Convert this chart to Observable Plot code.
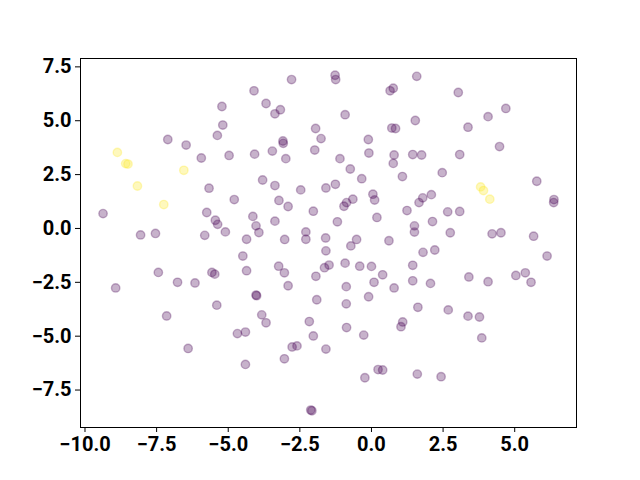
<!DOCTYPE html>
<html>
<head>
<meta charset="utf-8">
<script src="https://cdn.jsdelivr.net/npm/d3@7"></script>
<script src="https://cdn.jsdelivr.net/npm/@observablehq/plot@0.6"></script>
<style>
  html, body { margin: 0; padding: 0; background: #fff; }
</style>
</head>
<body>
<div id="chart"></div>
<script>
// Class 0 points (purple)
const x0 = [-5.22,-5.19,-5.38,-7.11,-6.47,-5.94,-4.97,-5.67,-4.79,-9.37,-5.75,-5.45,-5.37,-5.10,-8.06,-7.54,-5.82,-4.36,
  -2.79,-1.27,-1.25,-4.10,-3.68,-3.37,-3.18,-0.92,0.65,0.76,1.58,-1.95,-1.76,0.71,0.84,1.53,-3.09,-3.08,-0.11,-4.08,-3.46,
  -2.99,-1.98,-1.10,-0.09,0.79,0.76,1.44,1.75,-0.74,-3.80,-3.37,-2.47,-1.59,-1.26,-0.34,1.08,-3.23,-2.91,-2.03,-0.96,-0.87,
  -0.65,0.05,0.11,1.24,0.19,-4.14,-4.03,-3.93,-3.37,-1.19,-2.29,-2.29,-3.03,-1.60,-0.52,0.61,1.50,1.50,
  3.03,4.69,4.07,3.37,4.47,3.08,2.47,5.77,6.37,6.36,2.09,1.79,1.66,2.66,3.08,2.13,2.75,4.21,4.52,5.66,
  -4.49,-7.44,-5.57,-5.47,-6.77,-6.16,-8.93,-4.36,-5.40,-7.15,-4.68,-4.40,-6.40,-4.40,
  -1.59,-0.72,-3.24,-3.04,-2.91,-1.94,-1.64,-1.48,-0.92,-0.41,0.00,0.39,0.09,0.79,1.44,1.44,-0.88,-0.10,-4.03,-4.01,-1.91,
  -0.88,-3.83,-3.68,-2.17,-2.03,-0.87,-0.27,1.09,1.03,-2.77,-2.60,-1.59,-3.04,0.23,0.39,-0.23,-2.12,-2.08,
  1.80,2.21,6.13,2.06,3.40,4.07,5.04,5.37,5.57,1.62,2.68,3.37,3.77,3.85,1.60,2.43];
const y0 = [5.66,4.80,4.32,4.13,3.87,3.27,3.39,1.87,1.34,0.69,0.74,0.38,0.19,-0.16,-0.30,-0.23,-0.32,-0.50,
  6.91,7.11,6.91,6.39,5.80,5.32,5.51,5.28,6.39,6.51,7.06,4.64,4.17,4.66,4.64,5.01,4.06,3.95,4.13,3.45,3.59,
  3.24,3.64,3.24,3.50,3.41,3.02,3.43,3.41,2.76,2.25,1.99,1.79,1.88,2.05,2.31,2.41,1.30,1.02,0.80,1.03,1.20,
  1.36,1.59,1.32,0.83,0.51,0.56,0.12,-0.19,0.34,0.31,-0.16,-0.50,-0.51,-0.44,-0.51,-0.57,0.12,-0.17,
  6.31,5.57,5.19,4.70,3.80,3.43,2.59,2.19,1.34,1.20,1.57,1.42,1.20,0.77,0.79,0.32,-0.20,-0.25,-0.20,-0.36,
  -1.28,-2.04,-2.04,-2.12,-2.50,-2.53,-2.76,-1.96,-3.56,-4.06,-4.88,-4.81,-5.57,-6.31,
  -1.04,-0.81,-1.75,-2.06,-2.66,-2.22,-1.82,-1.70,-1.61,-1.75,-1.76,-2.15,-2.50,-2.76,-1.71,-2.43,-2.70,-3.17,-3.09,-3.12,-3.31,
  -3.50,-4.01,-4.38,-4.32,-4.99,-4.60,-4.95,-4.34,-4.56,-5.50,-5.45,-5.60,-6.05,-6.55,-6.57,-6.93,-8.43,-8.46,
  -1.11,-1.00,-1.28,-2.55,-2.25,-2.47,-2.18,-2.06,-2.50,-3.66,-3.78,-4.07,-4.11,-5.08,-6.76,-6.88];
// Class 1 points (yellow)
const x1 = [-8.87,-8.58,-8.50,-6.55,-8.17,-7.25,3.81,3.91,4.13];
const y1 = [3.53,3.01,2.99,2.70,1.97,1.11,1.93,1.76,1.36];

const xTicks = [-10, -7.5, -5, -2.5, 0, 2.5, 5];
const yTicks = [-7.5, -5, -2.5, 0, 2.5, 5, 7.5];
const classColors = ["#440154", "#fde725"];

const data = [
  ...x0.map((x, i) => ({x, y: y0[i], c: 0})),
  ...x1.map((x, i) => ({x, y: y1[i], c: 1}))
];

function padded(vals) {
  const [lo, hi] = d3.extent(vals);
  const r = hi - lo;
  return [lo - 0.05 * r, hi + 0.05 * r];
}

const fmt = d3.format(".1f");

const chart = Plot.plot({
  width: 640,
  height: 480,
  marginLeft: 80,
  marginRight: 64,
  marginTop: 58,
  marginBottom: 53,
  style: {fontFamily: "Roboto, 'Liberation Sans', sans-serif", fontSize: "20px", fontWeight: "bold", background: "#fff", color: "#000"},
  x: {domain: padded(data.map(d => d.x)), ticks: xTicks, tickFormat: fmt, label: null},
  y: {domain: padded(data.map(d => d.y)), ticks: yTicks, tickFormat: fmt, label: null},
  color: {type: "ordinal", domain: [0, 1], range: classColors},
  marks: [
    Plot.axisX({ticks: xTicks, tickFormat: fmt, tickSize: 5, tickPadding: 4, label: null, stroke: "#000", fill: "#000"}),
    Plot.axisY({ticks: yTicks, tickFormat: fmt, tickSize: 5, tickPadding: 4, label: null, stroke: "#000", fill: "#000"}),
    Plot.dot(data, {x: "x", y: "y", r: 4.2, fill: "c", stroke: "c", fillOpacity: 0.3, strokeOpacity: 0.3, strokeWidth: 1.4}),
    Plot.frame({stroke: "#000", strokeWidth: 1})
  ]
});
document.getElementById("chart").appendChild(chart);
</script>
</body>
</html>
